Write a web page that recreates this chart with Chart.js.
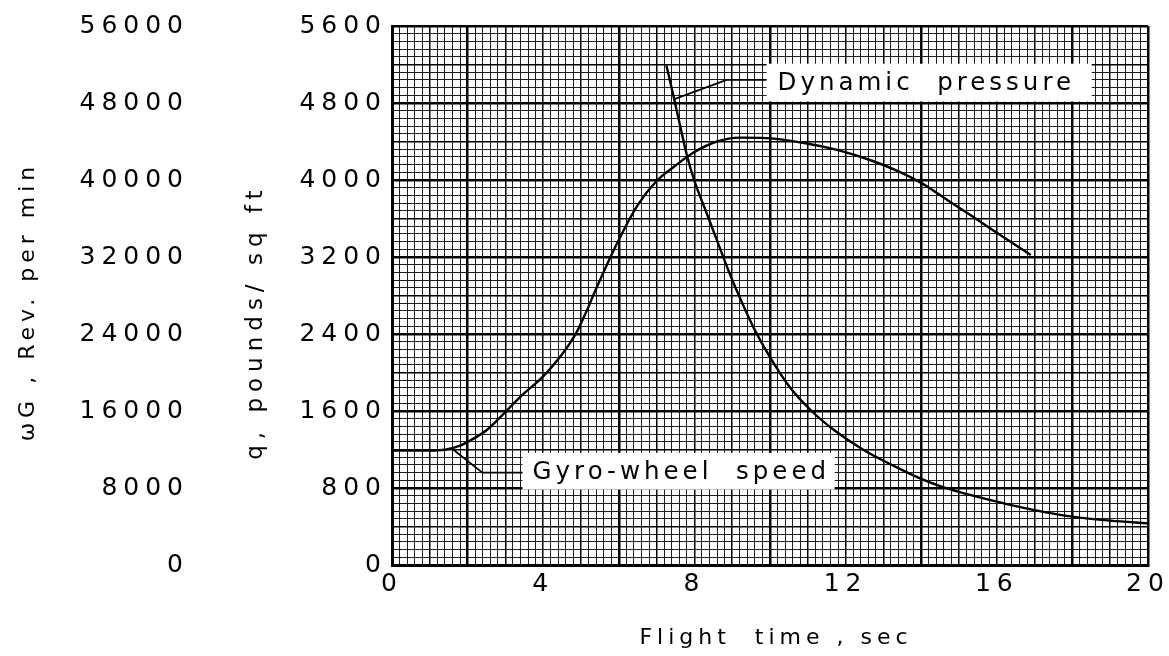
<!DOCTYPE html>
<html><head><meta charset="utf-8">
<script src="https://cdn.jsdelivr.net/npm/chart.js@4/dist/chart.umd.min.js"></script>
<style>html,body{margin:0;padding:0;background:#fff;overflow:hidden;}</style>
</head><body>
<canvas id="c" width="1169" height="656"></canvas>
<script>
// ---- axis ticks / labels ----
const timeTicks = [0, 4, 8, 12, 16, 20];
const timeLabels = ['0', '4', '8', '12', '16', '20'];
const qTicks = [0, 800, 1600, 2400, 3200, 4000, 4800, 5600];
const qLabels = ['0', '800', '1600', '2400', '3200', '4000', '4800', '5600'];
const omegaTicks = [0, 8000, 16000, 24000, 32000, 40000, 48000, 56000];
const omegaLabels = ['0', '8000', '16000', '24000', '32000', '40000', '48000', '56000'];

// ---- Dynamic pressure, q (lb/sq ft) ----
const dynTime = [7.26, 7.5, 7.8, 8.0, 8.3, 8.6, 8.9, 9.2, 9.6, 10.0, 10.5, 11.1, 11.7, 12.5, 13.3, 14.0, 14.5, 15.0, 15.6, 16.5, 17.3, 18.0, 19.0, 20.0];
const dynQ =    [5190, 4780, 4260, 3990, 3680, 3370, 3060, 2780, 2440, 2160, 1860, 1600, 1400, 1190, 1025, 895, 820, 760, 698, 612, 547, 502, 461, 433];

// ---- Gyro-wheel speed, omega_G (rev/min) ----
const gyroTime = [0, 1.0, 1.4, 1.8, 2.1, 2.5, 2.9, 3.4, 4.0, 4.5, 4.7, 4.9, 5.15, 5.4, 6.0, 6.5, 7.0, 7.5, 8.0, 8.6, 9.2, 9.9, 10.9, 11.8, 12.7, 13.4, 14.0, 14.7, 15.4, 16.2, 16.9];
const gyroRpm =  [11900, 11900, 11980, 12400, 13000, 14000, 15500, 17500, 19600, 21900, 23000, 24300, 26400, 28700, 33800, 37400, 39900, 41500, 42900, 44000, 44400, 44350, 43850, 43100, 42000, 40900, 39700, 37900, 36100, 34000, 32200];

// ---- label leader lines (data units: sec, q) ----
const dynLeaderTime = [9.91, 8.85, 7.47];
const dynLeaderQ = [5040, 5040, 4840];
const gyroLeaderTime = [3.45, 2.39, 1.6];
const gyroLeaderQ = [960, 960, 1205];

// ---- label boxes (data units) ----
const labelBoxes = [
  { text: 'Dynamic  pressure', t0: 9.91, t1: 18.51, q0: 4816, q1: 5208, tText: 10.2 },
  { text: 'Gyro-wheel  speed', t0: 3.45, t1: 11.71, q0: 784, q1: 1165, tText: 3.72 }
];

const FONT = 'DejaVu Sans';
const SPACING = { '25': '6px', '22': '5px', '23': '6px', '24.5': '4px' };

const spacingPlugin = {
  id: 'spacing',
  beforeInit(chart) {
    const ctx = chart.ctx;
    const ft = ctx.fillText, mt = ctx.measureText;
    const setSp = () => {
      const m = /(\d+(?:\.\d+)?)px/.exec(ctx.font);
      const s = m ? String(+m[1]) : '12';
      ctx.letterSpacing = SPACING[s] || '0px';
    };
    ctx.fillText = function (...a) { setSp(); return ft.apply(this, a); };
    ctx.measureText = function (...a) { setSp(); return mt.apply(this, a); };
  }
};

const boxPlugin = {
  id: 'boxes',
  beforeDatasetsDraw(chart) {
    const { ctx } = chart;
    const xs = chart.scales.x, ys = chart.scales.y;
    ctx.save();
    labelBoxes.forEach(b => {
      const x0 = xs.getPixelForValue(b.t0), x1 = xs.getPixelForValue(b.t1);
      const y0 = ys.getPixelForValue(b.q1), y1 = ys.getPixelForValue(b.q0);
      ctx.fillStyle = '#fff';
      ctx.fillRect(x0, y0, x1 - x0, y1 - y0);
      ctx.fillStyle = '#000';
      ctx.font = '24.5px "' + FONT + '"';
      ctx.textAlign = 'left';
      ctx.textBaseline = 'middle';
      ctx.fillText(b.text, xs.getPixelForValue(b.tText), (y0 + y1) / 2 + 1);
    });
    ctx.restore();
  }
};

const near = (arr, v, tol) => arr.findIndex(t => Math.abs(t - v) < tol);

function xGridWidth(c) {
  const k = Math.round((c.tick ? c.tick.value : 0) * 5);
  if (k % 20 === 10 || k === 0 || k === 100) return 2.5;
  if (k % 5 === 0) return 1.5;
  return 1;
}
function xGridColor(c) {
  const k = Math.round((c.tick ? c.tick.value : 0) * 5);
  if (k % 5 === 0) return '#000';
  return '#1e1e1e';
}
function yGridWidth(c) {
  const k = Math.round((c.tick ? c.tick.value : 0) / 80);
  if (k % 10 === 0) return 2.5;
  if (k % 5 === 0) return 1.5;
  return 1;
}
function yGridColor(c) {
  const k = Math.round((c.tick ? c.tick.value : 0) / 80);
  if (k % 5 === 0) return '#000';
  return '#1e1e1e';
}

const lineStyle = { borderColor: '#000', pointRadius: 0, fill: false };

new Chart(document.getElementById('c'), {
  type: 'line',
  data: {
    datasets: [
      Object.assign({ label: 'Dynamic pressure', yAxisID: 'y', borderWidth: 2.4, cubicInterpolationMode: 'monotone',
        data: dynTime.map((t, i) => ({ x: t, y: dynQ[i] })) }, lineStyle),
      Object.assign({ label: 'Gyro-wheel speed', yAxisID: 'y2', borderWidth: 2.4, cubicInterpolationMode: 'monotone',
        data: gyroTime.map((t, i) => ({ x: t, y: gyroRpm[i] })) }, lineStyle),
      Object.assign({ label: 'leader1', yAxisID: 'y', borderWidth: 1.8, tension: 0,
        data: dynLeaderTime.map((t, i) => ({ x: t, y: dynLeaderQ[i] })) }, lineStyle),
      Object.assign({ label: 'leader2', yAxisID: 'y', borderWidth: 1.8, tension: 0,
        data: gyroLeaderTime.map((t, i) => ({ x: t, y: gyroLeaderQ[i] })) }, lineStyle)
    ]
  },
  options: {
    responsive: false,
    devicePixelRatio: 1,
    animation: false,
    layout: { padding: { top: 10, right: 21, bottom: 0, left: 0 } },
    plugins: { legend: { display: false }, tooltip: { enabled: false } },
    scales: {
      x: {
        type: 'linear', position: 'bottom', min: 0, max: 20,
        afterBuildTicks: s => { const a = []; for (let i = 0; i <= 100; i++) a.push({ value: i / 5 }); s.ticks = a; },
        afterFit: s => { s.height = 91; s.paddingRight = 0; s.paddingLeft = 0; },
        ticks: {
          autoSkip: false, maxRotation: 0, padding: 4, color: '#000',
          font: { family: FONT, size: 25 },
          callback: v => { const i = near(timeTicks, v, 1e-6); return i >= 0 ? timeLabels[i] : ''; }
        },
        grid: { drawTicks: false, lineWidth: xGridWidth, color: xGridColor },
        border: { display: true, color: '#000', width: 3 },
        title: { display: true, text: ' Flight  time , sec', color: '#000', font: { family: FONT, size: 22 }, padding: { top: 0, bottom: 5 } }
      },
      y: {
        type: 'linear', position: 'left', min: 0, max: 5600, weight: 0,
        afterBuildTicks: s => { const a = []; for (let i = 0; i <= 70; i++) a.push({ value: i * 80 }); s.ticks = a; },
        afterFit: s => { s.width = 192; },
        ticks: {
          autoSkip: false, padding: 5, color: '#000',
          font: { family: FONT, size: 25 },
          callback: v => { const i = near(qTicks, v, 1e-3); return i >= 0 ? qLabels[i] : ''; }
        },
        grid: { drawTicks: false, lineWidth: yGridWidth, color: yGridColor },
        border: { display: true, color: '#000', width: 3 },
        title: { display: true, text: 'q, pounds/ sq ft    ', color: '#000', font: { family: FONT, size: 23 }, padding: { top: 42, bottom: 0 } }
      },
      y2: {
        type: 'linear', position: 'left', min: 0, max: 56000, weight: 1,
        afterBuildTicks: s => { s.ticks = omegaTicks.map(v => ({ value: v })); },
        afterFit: s => { s.width = 200; },
        ticks: {
          autoSkip: false, padding: 11, color: '#000',
          font: { family: FONT, size: 25 },
          callback: v => { const i = near(omegaTicks, v, 1e-3); return i >= 0 ? omegaLabels[i] : ''; }
        },
        grid: { display: false, drawTicks: false },
        border: { display: false },
        title: { display: true, text: 'ωG , Rev. per min ', color: '#000', font: { family: FONT, size: 22 }, padding: { top: 15, bottom: 0 } }
      }
    }
  },
  plugins: [spacingPlugin, boxPlugin]
});
</script>
</body></html>
